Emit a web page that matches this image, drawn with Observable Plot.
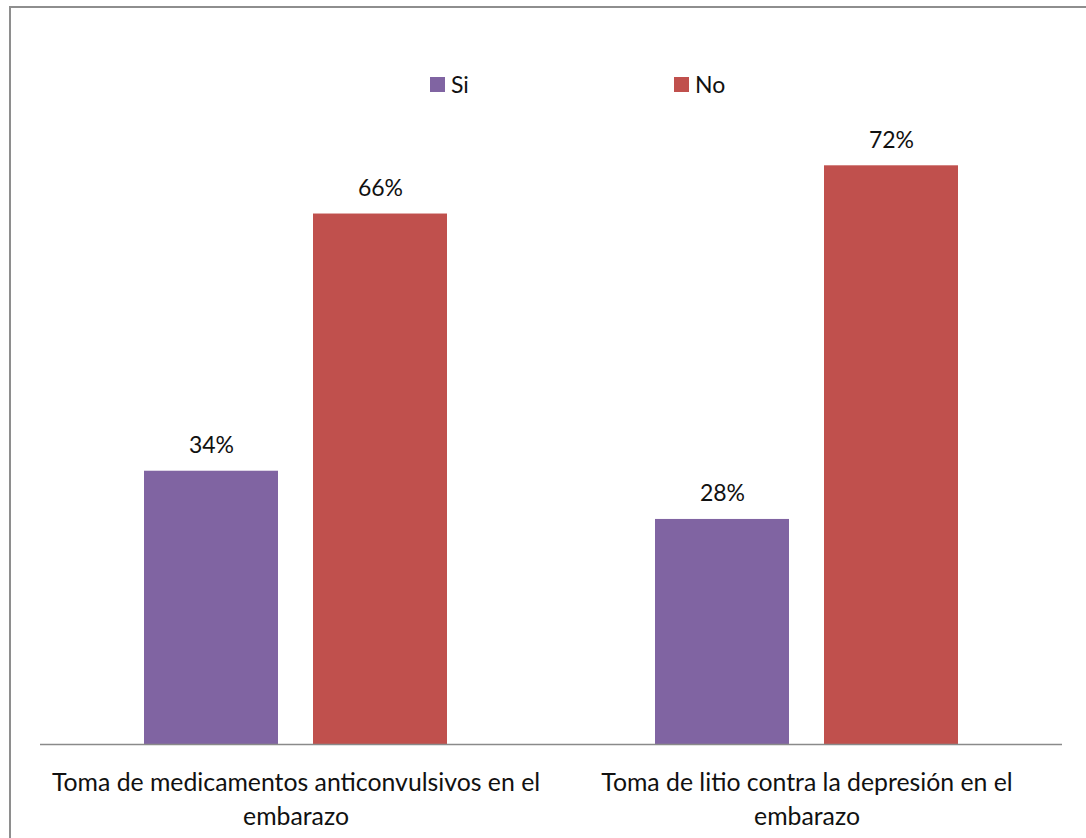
<!DOCTYPE html>
<html>
<head>
<meta charset="utf-8">
<script src="https://cdn.jsdelivr.net/npm/d3@7"></script>
<script src="https://cdn.jsdelivr.net/npm/@observablehq/plot@0.6"></script>
<style>
  html, body { margin: 0; padding: 0; overflow: hidden; background: #fff; }
  #wrap { position: relative; width: 1086px; height: 838px; font-family: Lato, "Open Sans", sans-serif; }
  #frame { position: absolute; left: 9px; top: 6px; width: 1100px; height: 860px; border-left: 2px solid #8e8e8e; border-top: 2px solid #8e8e8e; box-sizing: border-box; }
  #chart { position: absolute; left: 0; top: 0; }
  .leg { position: absolute; font-size: 23px; color: #111; line-height: 1; }
  .sw { position: absolute; width: 15px; height: 15px; }
</style>
</head>
<body>
<div id="wrap">
  <div id="frame"></div>
  <div id="chart"></div>
  <div id="legend"></div>
</div>
<script>
const categories = [
  "Toma de medicamentos anticonvulsivos en el embarazo",
  "Toma de litio contra la depresión en el embarazo"
];
const categoryLabels = [
  "Toma de medicamentos anticonvulsivos en el\nembarazo",
  "Toma de litio contra la depresión en el\nembarazo"
];
const series = ["Si", "No"];
const colors = ["#8064A2", "#C0504D"];
const siValues = [0.34, 0.28];
const noValues = [0.66, 0.72];

const data = [];
categories.forEach((c, i) => {
  data.push({category: c, serie: "Si", value: siValues[i]});
  data.push({category: c, serie: "No", value: noValues[i]});
});

const labelOf = new Map(categories.map((c, i) => [c, categoryLabels[i]]));

const chart = Plot.plot({
  width: 1086,
  height: 838,
  marginTop: 101,
  marginBottom: 94,
  marginLeft: 39,
  marginRight: 24,
  style: {fontFamily: "Lato, 'Open Sans', sans-serif", background: "transparent"},
  fx: {domain: categories, paddingInner: 0, paddingOuter: 0, label: null},
  x: {domain: series, paddingInner: 0.206, paddingOuter: 0.607, axis: null},
  y: {domain: [0, 0.8], axis: null},
  color: {domain: series, range: colors},
  marks: [
    Plot.barY(data, {fx: "category", x: "serie", y: "value", fill: "serie"}),
    Plot.text(data, {fx: "category", x: "serie", y: "value", text: d => d3.format(".0%")(d.value),
      lineAnchor: "bottom", dy: -18, fontSize: 23, fill: "#111"}),
    Plot.ruleY([0], {stroke: "#8a8a8a", strokeWidth: 1.5}),
    Plot.axisFx({anchor: "bottom", tickSize: 0, tickPadding: 22, fontSize: 24.8, lineHeight: 1.38,
      tickFormat: d => labelOf.get(d), label: null, fill: "#111"})
  ]
});
document.getElementById("chart").appendChild(chart);

const legend = document.getElementById("legend");
const legPos = [430, 674];
series.forEach((s, i) => {
  const sw = document.createElement("div");
  sw.className = "sw";
  sw.style.left = legPos[i] + "px";
  sw.style.top = "77px";
  sw.style.background = colors[i];
  legend.appendChild(sw);
  const t = document.createElement("div");
  t.className = "leg";
  t.textContent = s;
  t.style.left = (legPos[i] + 21) + "px";
  t.style.top = "73px";
  legend.appendChild(t);
});
</script>
</body>
</html>
